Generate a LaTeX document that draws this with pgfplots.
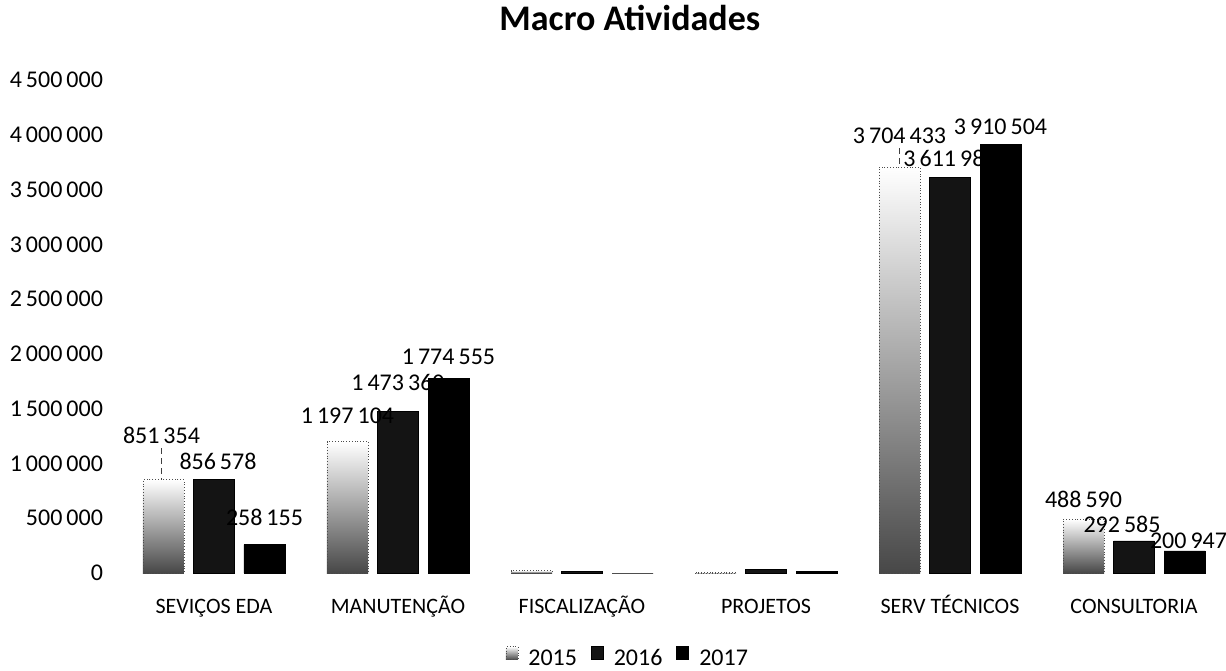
\documentclass[border=0pt]{standalone}
\usepackage{pgfplots}
\pgfplotsset{compat=1.18}
\usepackage{fontspec}
\setmainfont{Carlito}
\pgfplotsset{
  s15/.style={top color=white, bottom color=black!72, draw=black!70, densely dotted, bar shift=-25.25pt},
}
\begin{document}
\begin{tikzpicture}
\useasboundingbox (-61pt,-48.5pt) rectangle (552pt,286.5pt);
\begin{axis}[
  at={(0,0)}, anchor=south west,
  scale only axis, width=552pt, height=246.5pt,
  ybar, bar width=20.5pt,
  xmin=-0.5, xmax=5.5, ymin=0, ymax=4500000,
  xtick={0,1,2,3,4,5},
  xticklabels={SEVIÇOS EDA, MANUTENÇÃO, FISCALIZAÇÃO, PROJETOS, SERV TÉCNICOS, CONSULTORIA},
  ytick={0,500000,...,4500000},
  scaled y ticks=false,
  yticklabel style={font=\fontsize{12}{14}\selectfont, anchor=east, xshift=-6pt, /pgf/number format/fixed, /pgf/number format/precision=0, /pgf/number format/1000 sep={\,}, /pgf/number format/assume math mode=true},
  xticklabel style={font=\fontsize{11}{13}\selectfont, anchor=base, yshift=-20pt},
  axis line style={draw=none},
  major tick length=0pt,
  title={Macro Atividades},
  title style={font=\bfseries\fontsize{18}{21}\selectfont, at={(0.46,1)}, anchor=base, yshift=18.5pt},
  nodes near coords,
  point meta=explicit symbolic,
  nodes near coords style={font=\fontsize{12}{14}\selectfont, black, anchor=center, inner sep=2pt, solid},
  legend columns=3,
  legend style={draw=none, fill=none, at={(0.459,-0.174)}, anchor=center, font=\fontsize{12}{14}\selectfont,
    /tikz/every odd column/.append style={column sep=3pt},
    /tikz/every even column/.append style={column sep=5pt}},
  legend image code/.code={\draw[#1] (0pt,-0.5pt) rectangle (6pt,6pt);},
]
% 2015 (one plot per bar so that each bar gets its own shading)
\addplot[s15, nodes near coords style={xshift=-1pt, yshift=22pt,
   append after command={(\tikzlastnode.south) edge[solid, densely dashed, thin, black!75] ([yshift=-16pt]\tikzlastnode.south)}}]
   coordinates {(0,851354) [851\,354]};
\addplot[s15, forget plot, nodes near coords style={yshift=13pt}]
   coordinates {(1,1197104) [1\,197\,104]};
\addplot[s15, forget plot, nodes near coords style={yshift=13pt}]
   coordinates {(2,20000) [\relax]};
\addplot[s15, forget plot, top color=white, bottom color=black!30, nodes near coords style={yshift=13pt}]
   coordinates {(3,6000) [\relax]};
\addplot[s15, forget plot, nodes near coords style={yshift=15.5pt,
   append after command={(\tikzlastnode.south) edge[solid, densely dashed, thin, black!75] ([yshift=-9.5pt]\tikzlastnode.south)}}]
   coordinates {(4,3704433) [3\,704\,433]};
\addplot[s15, forget plot, nodes near coords style={yshift=10pt}]
   coordinates {(5,488590) [488\,590]};
% 2016
\addplot[fill=black!92, draw=black, bar shift=0pt,
   visualization depends on={value \thisrow{dx}\as\dx},
   visualization depends on={value \thisrow{dy}\as\dy},
   nodes near coords style={xshift=\dx pt, yshift=\dy pt}]
   table[x=x, y=y, meta=lab] {
x y lab dx dy
0 856578 {856\,578} 2 9
1 1473360 {1\,473\,360} 0 14.5
2 18000 {\relax} 0 0
3 30000 {\relax} 0 0
4 3611980 {3\,611\,980} 0 9.5
5 292585 {292\,585} -6 8.5
};
% 2017
\addplot[fill=black, draw=black, bar shift=25.25pt,
   visualization depends on={value \thisrow{dx}\as\dx},
   visualization depends on={value \thisrow{dy}\as\dy},
   nodes near coords style={xshift=\dx pt, yshift=\dy pt}]
   table[x=x, y=y, meta=lab] {
x y lab dx dy
0 258155 {258\,155} 0 13.5
1 1774555 {1\,774\,555} 0 11
2 0 {\relax} 0 0
3 15000 {\relax} 0 0
4 3910504 {3\,910\,504} 0 9
5 200947 {200\,947} 2 5
};
\legend{2015, 2016, 2017}
\end{axis}
\end{tikzpicture}
\end{document}
